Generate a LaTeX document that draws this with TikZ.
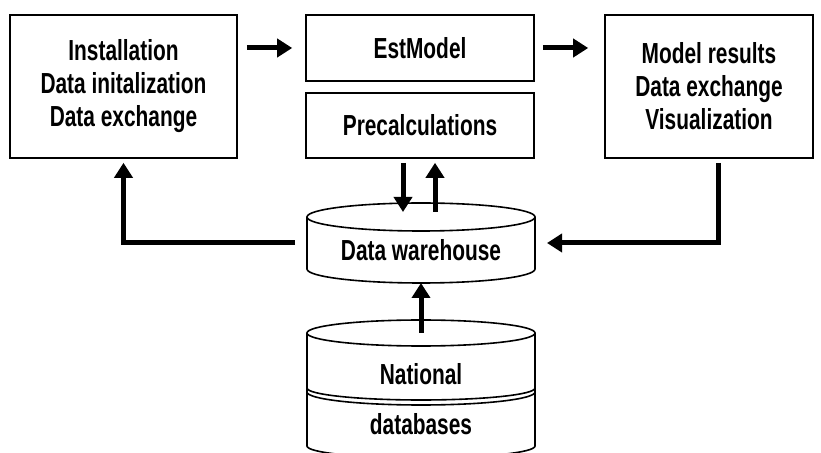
\documentclass[tikz,border=0pt]{standalone}
\usepackage{fontspec}
\setmainfont{Liberation Sans}[FakeStretch=0.72]
\usetikzlibrary{arrows.meta}
\begin{document}
\begin{tikzpicture}[x=1pt,y=1pt,
    every node/.style={font=\bfseries\fontsize{29}{33}\selectfont, align=center},
    box/.style={draw, line width=1.6pt, inner sep=0pt},
    cyl/.style={line width=1.6pt},
    fat/.style={line width=5pt, -{Triangle[width=18pt,length=15pt]}}]
  \useasboundingbox (0,0) rectangle (821,452);
  % upper row
  \node[box, minimum width=227pt, minimum height=143pt] (inst) at (123.5,365.5)
    {Installation\\Data initalization\\Data exchange};
  \node[box, minimum width=228pt, minimum height=66pt] (est) at (420,404) {EstModel};
  \node[box, minimum width=228pt, minimum height=65pt] (pre) at (420,326.5) {Precalculations};
  \node[box, minimum width=208pt, minimum height=143pt] (res) at (709,365.5)
    {Model results\\Data exchange\\Visualization};
  % data warehouse
  \draw[cyl] (307,235) -- (307,183) arc[start angle=180, end angle=360, x radius=114, y radius=14] -- (535,235);
  \draw[cyl] (421,235) ellipse[x radius=114, y radius=14];
  \node (wh) at (421,202) {Data warehouse};
  \coordinate (whtop) at (421,240);
  \coordinate (whbot) at (421,169);
  \coordinate (whL) at (307,209);
  \coordinate (whR) at (535,209);
  % national databases
  \draw[cyl] (307,119) -- (307,64) arc[start angle=180, end angle=360, x radius=114, y radius=12] -- (535,119);
  \draw[cyl] (421,119) ellipse[x radius=114, y radius=13];
  \draw[cyl] (307,60) arc[start angle=180, end angle=360, x radius=114, y radius=13];
  \draw[cyl] (307,64) -- (307,6) arc[start angle=180, end angle=360, x radius=114, y radius=12] -- (535,64);
  \node (nat) at (421,78) {National};
  \node (db) at (421,28) {databases};
  \coordinate (nattop) at (421,119);
  % arrows
  \begin{scope}
    \draw[fat, shorten <=9pt, shorten >=13pt] (inst.east |- est.west) -- (est.west);
    \draw[fat, shorten <=8pt, shorten >=16pt] (est.east) -- (res.west |- est.east);
    \draw[fat, shorten <=4pt] ([xshift=-17pt]pre.south) -- ([xshift=-17pt]pre.south |- whtop);
    \draw[fat, shorten >=4pt] ([xshift=15pt]pre.south |- whtop) -- ([xshift=15pt]pre.south);
    \draw[fat] (nattop) -- (whbot);
    \draw[fat, shorten <=12pt, shorten >=4pt] (whL) -| (inst.south);
    \draw[fat, shorten <=4pt, shorten >=12pt] ([xshift=9pt]res.south) |- (whR);
  \end{scope}
\end{tikzpicture}
\end{document}
